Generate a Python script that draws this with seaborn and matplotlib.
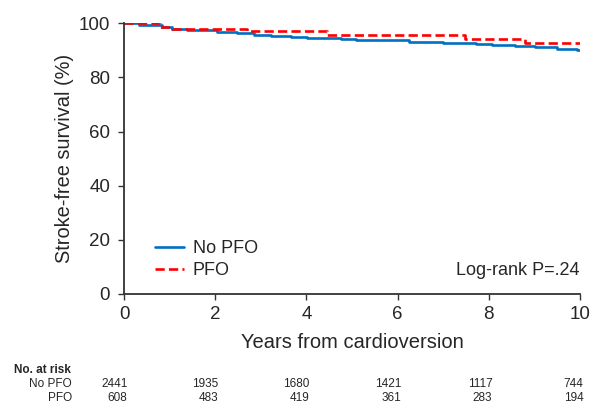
import pandas as pd
import seaborn as sns
import matplotlib.pyplot as plt
import matplotlib.transforms as mtrans

# ---------------------------------------------------------------------
# Data (years, % stroke-free)
# ---------------------------------------------------------------------
no_pfo_years = [0, 0.32, 0.83, 1.05, 1.38, 2.04, 2.48, 2.85, 3.22, 3.66, 4.02,
                4.76, 5.09, 6.26, 7.0, 7.73, 8.06, 8.57, 9.02, 9.49, 9.93, 10]
no_pfo_surv = [100, 99.2, 98.6, 98.0, 97.4, 96.8, 96.3, 95.8, 95.3, 94.9, 94.5,
               94.2, 93.7, 93.1, 92.7, 92.3, 91.9, 91.6, 91.1, 90.6, 90.0, 90.0]

pfo_years = [0, 0.79, 1.05, 2.7, 4.46, 7.47, 8.8, 10]
pfo_surv = [100, 98.5, 97.9, 97.0, 95.6, 94.2, 92.9, 92.9]

risk_groups = ["No PFO", "PFO"]
risk_no_pfo = [2441, 1935, 1680, 1421, 1117, 744]
risk_pfo = [608, 483, 419, 361, 283, 194]

x_ticks = [0, 2, 4, 6, 8, 10]
y_ticks = [0, 20, 40, 60, 80, 100]

# Long-form table for seaborn
df = pd.concat([
    pd.DataFrame({"years": no_pfo_years, "surv": no_pfo_surv, "group": "No PFO"}),
    pd.DataFrame({"years": pfo_years, "surv": pfo_surv, "group": "PFO"}),
])

sns.set_style("ticks")
plt.rcParams["font.family"] = ["Liberation Sans", "DejaVu Sans"]

fig = plt.figure(figsize=(5.93, 4.03), dpi=100)
ax = fig.add_axes([124 / 593, 109 / 403, 456 / 593, 270.7 / 403])

sns.lineplot(
    data=df, x="years", y="surv", hue="group", style="group",
    hue_order=risk_groups, style_order=risk_groups,
    palette={"No PFO": "#0070C0", "PFO": "#FF0000"},
    dashes={"No PFO": "", "PFO": (3.5, 1.6)},
    drawstyle="steps-post", linewidth=1.9, ax=ax, legend=True,
)

# Axes formatting
ax.set_xlim(0, 10)
ax.set_ylim(0, 100)
ax.set_xticks(x_ticks)
ax.set_yticks(y_ticks)
ax.tick_params(labelsize=13.5, length=4.5, width=1, color="#333333")
ax.tick_params(axis="x", pad=4)
ax.tick_params(axis="y", pad=5.5)
ax.set_xlabel("Years from cardioversion", fontsize=14.5, labelpad=7)
ax.set_ylabel("Stroke-free survival (%)", fontsize=14.4, labelpad=3.5)
for side in ["top", "right"]:
    ax.spines[side].set_visible(False)
for side in ["left", "bottom"]:
    ax.spines[side].set_color("#333333")
    ax.spines[side].set_linewidth(1.3)

# Legend
handles, labels = ax.get_legend_handles_labels()
ax.legend(handles, labels, loc="lower left",
          bbox_to_anchor=(31 / 456, 15 / 270.7),
          frameon=False, fontsize=13, handlelength=1.6, handletextpad=0.5,
          borderaxespad=0, borderpad=0, labelspacing=0.25)

ax.text(10, 8.8, "Log-rank P=.24", ha="right", va="center", fontsize=13)

# Number at risk table (columns right-aligned just past each x tick)
fig.text(14 / 593, 1 - 370 / 403, "No. at risk", fontsize=8.5,
         fontweight="bold", va="center")
trans = mtrans.blended_transform_factory(ax.transData, fig.transFigure)
shift = mtrans.ScaledTranslation(3.5 / 100, 0, fig.dpi_scale_trans)
for row_y, name, counts in [(384, "No PFO", risk_no_pfo), (398, "PFO", risk_pfo)]:
    fig.text(72 / 593, 1 - row_y / 403, name, fontsize=8.5, ha="right", va="center")
    for xt, n in zip(x_ticks, counts):
        ax.text(xt, 1 - row_y / 403, str(n), fontsize=8.5, ha="right",
                va="center", transform=trans + shift, clip_on=False)

fig.savefig("out.png", dpi=100)
